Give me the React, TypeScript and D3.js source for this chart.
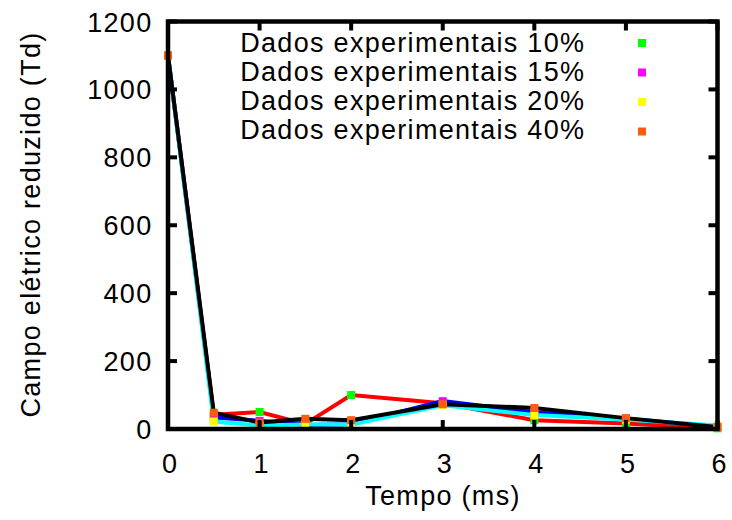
import React from "react";
import * as d3 from "d3";

const times = [0, 0.5, 1, 1.5, 2, 3, 4, 5, 6];
const exp10 = [1100, 42, 50, 15, 100, 76, 26, 16, 2];
const exp15 = [1100, 34, 24, 12, 14, 82, 49, 30, 7];
const exp20 = [1100, 22, 10, 13, 13, 70, 41, 28, 10];
const exp40 = [1100, 48, 19, 30, 26, 73, 62, 32, 6];
const seriesLabels = [
  "Dados experimentais 10%",
  "Dados experimentais 15%",
  "Dados experimentais 20%",
  "Dados experimentais 40%",
];
const xTicks = [0, 1, 2, 3, 4, 5, 6];
const yTicks = [0, 200, 400, 600, 800, 1000, 1200];

const lineColors = ["#ff0000", "#0000ff", "#00ffff", "#000000"];
const markerColors = ["#00ff00", "#ff00ff", "#ffff00", "#ff5a10"];
const seriesValues = [exp10, exp15, exp20, exp40];

const W = 732;
const H = 520;
const L = 168;
const R = 717.5;
const T = 21.5;
const B = 429;
const FONT = "'Liberation Sans', Arial, Helvetica, sans-serif";
const FS = 27;
const LS = 1.3;

export default function App() {
  const x = d3.scaleLinear().domain([0, 6]).range([L, R]);
  const y = d3.scaleLinear().domain([0, 1200]).range([B, T]);
  const line = d3
    .line<number>()
    .x((_, i) => x(times[i]))
    .y((d) => y(d));
  const ms = 8;
  const tl = 9;
  return (
    <svg
      width={W}
      height={H}
      style={{ position: "absolute", left: 0, top: 0, background: "#fff" }}
      fontFamily={FONT}
    >
      <rect width={W} height={H} fill="#fff" />
      {/* lines */}
      {seriesValues.map((vals, s) => (
        <path
          key={"l" + s}
          d={line(vals) || ""}
          fill="none"
          stroke={lineColors[s]}
          strokeWidth={4}
          strokeLinejoin="miter"
        />
      ))}
      {/* markers */}
      {seriesValues.map((vals, s) => (
        <g key={"m" + s} fill={markerColors[s]}>
          {vals.map((v, i) => (
            <rect
              key={i}
              x={x(times[i]) - ms / 2}
              y={y(v) - ms / 2}
              width={ms}
              height={ms}
            />
          ))}
        </g>
      ))}
      {/* frame */}
      <rect
        x={L}
        y={T}
        width={R - L}
        height={B - T}
        fill="none"
        stroke="#000"
        strokeWidth={4.5}
      />
      {/* ticks */}
      {xTicks.map((t) => (
        <g key={"xt" + t} stroke="#000" strokeWidth={4}>
          <line x1={x(t)} x2={x(t)} y1={B} y2={B - tl} />
          <line x1={x(t)} x2={x(t)} y1={T} y2={T + tl} />
        </g>
      ))}
      {yTicks.map((t) => (
        <g key={"yt" + t} stroke="#000" strokeWidth={4}>
          <line x1={L} x2={L + tl} y1={y(t)} y2={y(t)} />
          <line x1={R} x2={R - tl} y1={y(t)} y2={y(t)} />
        </g>
      ))}
      {/* tick labels */}
      {xTicks.map((t) => (
        <text
          key={"xl" + t}
          x={x(t) + 2.2}
          y={473}
          fontSize={FS}
          letterSpacing={LS}
          textAnchor="middle"
          fill="#000"
        >
          {t}
        </text>
      ))}
      {yTicks.map((t) => (
        <text
          key={"yl" + t}
          x={152.5}
          y={y(t) + 10}
          fontSize={FS}
          letterSpacing={LS}
          textAnchor="end"
          fill="#000"
        >
          {t}
        </text>
      ))}
      {/* axis titles */}
      <text
        x={443}
        y={505}
        fontSize={FS}
        letterSpacing={LS}
        textAnchor="middle"
        fill="#000"
      >
        Tempo (ms)
      </text>
      <text
        transform={`translate(39.5, ${(32 + 417) / 2}) rotate(-90)`}
        fontSize={FS}
        letterSpacing={LS}
        textAnchor="middle"
        fill="#000"
      >
        Campo elétrico reduzido (Td)
      </text>
      {/* legend */}
      {seriesLabels.map((lab, s) => (
        <g key={"lg" + s}>
          <text
            x={585.3}
            y={52 + s * 29}
            fontSize={FS}
            letterSpacing={LS}
            textAnchor="end"
            fill="#000"
          >
            {lab}
          </text>
          <rect
            x={642 - ms / 2}
            y={43 + s * 29.5 - ms / 2}
            width={ms}
            height={ms}
            fill={markerColors[s]}
          />
        </g>
      ))}
    </svg>
  );
}
